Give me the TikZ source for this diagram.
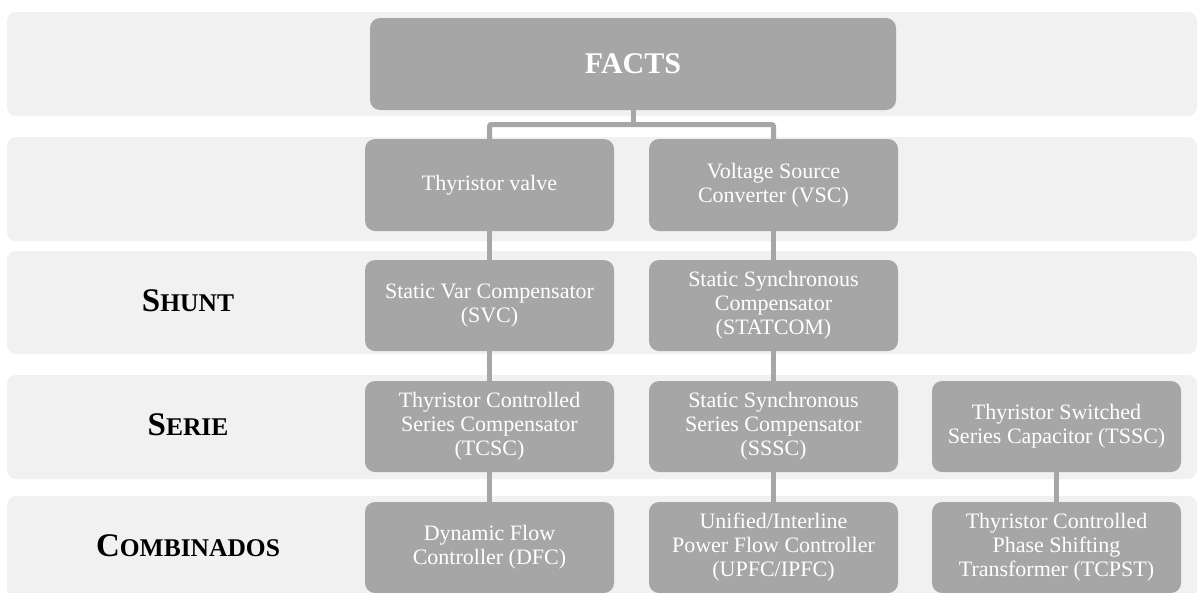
\documentclass[tikz,border=0pt]{standalone}
\usepackage{fontspec}
\setmainfont{Liberation Serif}
\definecolor{bandgray}{HTML}{F1F1F1}
\definecolor{boxgray}{HTML}{A6A6A6}
\newcommand\fakesc[2]{{\fontsize{33}{33}\selectfont #1}{\fontsize{25.5}{25.5}\selectfont #2}}
\tikzset{
  band/.style={fill=bandgray, draw=none, rounded corners=9pt},
  gbox/.style={fill=boxgray, draw=none, rounded corners=10pt, text=white, align=center,
    minimum width=249pt, minimum height=91pt, inner sep=0pt,
    font=\fontsize{22}{24}\selectfont},
  conn/.style={draw=boxgray, line width=5pt},
  rowlabel/.style={anchor=base, font=\bfseries, text=black, inner sep=0pt}
}
\begin{document}
\begin{tikzpicture}[x=1pt,y=1pt]
\useasboundingbox (0,0) rectangle (1198,-592);
% bands
\path[band] (7,-12) rectangle (1197,-116);
\path[band] (7,-137) rectangle (1197,-241);
\path[band] (7,-251) rectangle (1197,-354);
\path[band] (7,-375) rectangle (1197,-479);
\path[band] (7,-496) rectangle (1197,-600);
% boxes
\node[gbox, minimum width=526pt, minimum height=92pt, font=\fontsize{30}{30}\selectfont\bfseries] (facts) at (633,-64) {FACTS};
\node[gbox, minimum height=92pt] (tv) at (489.5,-185) {Thyristor valve};
\node[gbox, minimum height=92pt] (vsc) at (773.5,-185) {Voltage Source\\Converter (VSC)};
\node[gbox] (svc) at (489.5,-305.5) {Static Var Compensator\\(SVC)};
\node[gbox] (statcom) at (773.5,-305.5) {Static Synchronous\\Compensator\\(STATCOM)};
\node[gbox] (tcsc) at (489.5,-426.5) {Thyristor Controlled\\Series Compensator\\(TCSC)};
\node[gbox] (sssc) at (773.5,-426.5) {Static Synchronous\\Series Compensator\\(SSSC)};
\node[gbox] (tssc) at (1056.5,-426.5) {Thyristor Switched\\Series Capacitor (TSSC)};
\node[gbox] (dfc) at (489.5,-547.5) {Dynamic Flow\\Controller (DFC)};
\node[gbox] (upfc) at (773.5,-547.5) {Unified/Interline\\Power Flow Controller\\(UPFC/IPFC)};
\node[gbox] (tcpst) at (1056.5,-547.5) {Thyristor Controlled\\Phase Shifting\\Transformer (TCPST)};
% row labels
\node[rowlabel] (lshunt) at (188,-311.5) {\fakesc{S}{HUNT}};
\node[rowlabel] (lserie) at (188,-435) {\fakesc{S}{ERIE}};
\node[rowlabel] (lcomb) at (188,-556) {\fakesc{C}{OMBINADOS}};
% connectors
\coordinate (split) at (633,-124.5);
\draw[conn] (facts.south) -- (split);
\draw[conn, rounded corners=2pt] (split) -| (tv.north);
\draw[conn, rounded corners=2pt] (split) -| (vsc.north);
\draw[conn] (tv) -- (svc);
\draw[conn] (svc) -- (tcsc);
\draw[conn] (tcsc) -- (dfc);
\draw[conn] (vsc) -- (statcom);
\draw[conn] (statcom) -- (sssc);
\draw[conn] (sssc) -- (upfc);
\draw[conn] (tssc) -- (tcpst);
\end{tikzpicture}
\end{document}
